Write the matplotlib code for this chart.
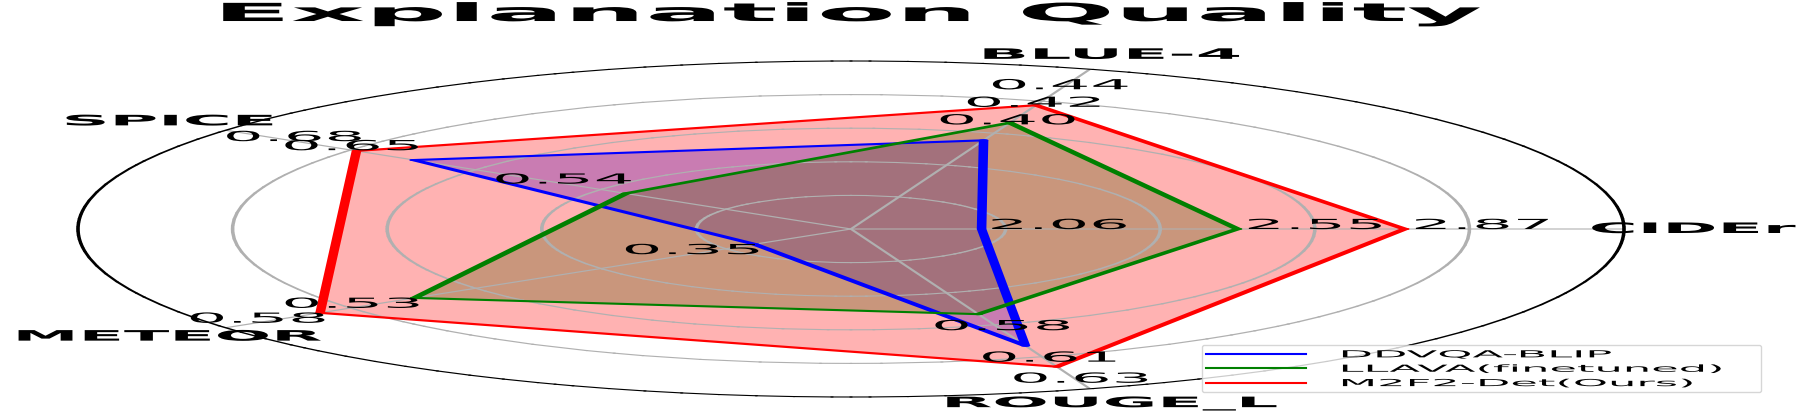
import numpy as np
import matplotlib
matplotlib.use('Agg')
import matplotlib.pyplot as plt
from matplotlib import patheffects
from matplotlib.path import Path
from matplotlib.transforms import Affine2D
from matplotlib.lines import Line2D

# ---------------- data ----------------
categories = ['CIDEr', 'BLUE-4', 'SPICE', 'METEOR', 'ROUGE_L']
series_names = ['DDVQA-BLIP', 'LLAVA(finetuned)', 'M2F2-Det(Ours)']
ddvqa_blip = [2.06, 0.40, 0.65, 0.35, 0.61]
llava_ft = [2.55, 0.42, 0.54, 0.53, 0.58]
m2f2_det = [2.87, 0.44, 0.68, 0.58, 0.63]
# per-axis scale used to normalise each metric onto the radar
axis_min = [1.81, 0.299, 0.423, 0.299, 0.499]
axis_max = [3.29, 0.481, 0.748, 0.630, 0.651]
series_colors = ['blue', 'green', 'red']
r_grid = [0.2, 0.4, 0.6, 0.8]

STRETCH = 4.6       # horizontal stretch of text and data lines
GRID_STRETCH = 3.2  # apparent stretch of grid / frame strokes


class StretchText(patheffects.AbstractPathEffect):
    """Draw text glyphs stretched horizontally about an anchor."""
    def __init__(self, sx, anchor='center'):
        super().__init__()
        self.sx = sx
        self.anchor = anchor

    def draw_path(self, renderer, gc, tpath, affine, rgbFace=None):
        ext = tpath.get_extents(affine)
        if self.anchor == 'left':
            cx = ext.x0
        elif self.anchor == 'right':
            cx = ext.x1
        else:
            cx = 0.5 * (ext.x0 + ext.x1)
        new_aff = affine + Affine2D().translate(-cx, 0).scale(self.sx, 1).translate(cx, 0)
        renderer.draw_path(gc, tpath, new_aff, rgbFace)


class AnisoStroke(patheffects.AbstractPathEffect):
    """Stroke a path as if it had been drawn then stretched horizontally."""
    def __init__(self, sx, nseg=10):
        super().__init__()
        self.sx = sx
        self.th = np.linspace(-np.pi / 2, np.pi / 2, nseg)

    def draw_path(self, renderer, gc, tpath, affine, rgbFace=None):
        gc0 = renderer.new_gc()
        gc0.copy_properties(gc)
        gc0.set_linewidth(0)
        if rgbFace is not None:
            renderer.draw_path(gc0, tpath, affine, rgbFace)
        lw = gc.get_linewidth()
        if lw <= 0:
            gc0.restore()
            return
        hw = renderer.points_to_pixels(lw) / 2.0
        color = gc.get_rgb()
        sx = self.sx
        th = self.th
        for poly in tpath.to_polygons(affine, closed_only=False):
            if len(poly) < 2:
                continue
            u = np.array(poly, dtype=float)
            u[:, 0] /= sx
            for a, b in zip(u[:-1], u[1:]):
                d = b - a
                if np.hypot(d[0], d[1]) < 1e-9:
                    continue
                ang = np.arctan2(d[1], d[0])
                t1 = ang + th
                t2 = ang + np.pi + th
                pts = np.concatenate([
                    b + hw * np.column_stack([np.cos(t1), np.sin(t1)]),
                    a + hw * np.column_stack([np.cos(t2), np.sin(t2)]),
                    (b + hw * np.array([np.cos(t1[0]), np.sin(t1[0])]))[None, :],
                ])
                pts[:, 0] *= sx
                codes = [Path.MOVETO] + [Path.LINETO] * (len(pts) - 2) + [Path.CLOSEPOLY]
                renderer.draw_path(gc0, Path(pts, codes), Affine2D(), color)
        gc0.restore()


fig = plt.figure(figsize=(18.09, 4.14), dpi=100)
ax = fig.add_axes([78 / 1809, 16 / 414, 1546 / 1809, 336 / 414], projection='polar')
ax.set_aspect('auto')

n = len(categories)
angles = np.arange(n) * 2 * np.pi / n
lo = np.array(axis_min)
hi = np.array(axis_max)

all_series = [ddvqa_blip, llava_ft, m2f2_det]
norm = [(np.array(s) - lo) / (hi - lo) for s in all_series]

th_closed = np.concatenate([angles, angles[:1]])

for r, c in zip(norm, series_colors):
    ax.fill(th_closed, np.concatenate([r, r[:1]]), color=c, alpha=0.3, lw=0)

aniso = [AnisoStroke(STRETCH)]
aniso_grid = [AnisoStroke(GRID_STRETCH)]
for r, c in zip(norm, series_colors):
    ax.plot(th_closed, np.concatenate([r, r[:1]]), color=c, lw=1.5,
            solid_joinstyle='round', path_effects=aniso)

ax.set_ylim(0, 1)
ax.set_xticks(angles)
ax.set_xticklabels([])
ax.set_yticks(r_grid)
ax.set_yticklabels([])
ax.grid(True, color='#b0b0b0', lw=0.8)
for gl in ax.xaxis.get_gridlines() + ax.yaxis.get_gridlines():
    gl.set_path_effects(aniso_grid)
ax.spines['polar'].set_color('black')
ax.spines['polar'].set_linewidth(0.8)
ax.spines['polar'].set_path_effects(aniso_grid)

st_c = [StretchText(STRETCH, 'center')]

# value annotations
for vals, r in zip(all_series, norm):
    for j in range(n):
        ax.text(angles[j], r[j] + 0.1, f'{vals[j]:.2f}', ha='center', va='baseline',
                fontsize=10, color='black', path_effects=st_c, zorder=5)

# category labels
for j, cat in enumerate(categories):
    ax.text(angles[j], 1.09, cat, ha='center', va='center', fontsize=10.4,
            fontweight='bold', color='black', path_effects=st_c, clip_on=False)

t = ax.set_title('Explanation Quality', fontsize=17.95, fontweight='bold', y=1.119, pad=0)
t.set_path_effects(st_c)

handles = [Line2D([0], [0], color=c, lw=1.5) for c in series_colors]
leg = fig.legend(handles, series_names, loc='lower left',
                 bbox_to_anchor=(1202 / 1809, 1 - 393 / 414, 559 / 1809, 0.116),
                 mode='expand', fontsize=7, handlelength=10.3, handletextpad=3.7,
                 borderaxespad=0, labelspacing=0.45)
for tx in leg.get_texts():
    tx.set_path_effects([StretchText(STRETCH, 'left')])

fig.savefig('out.png', dpi=100)
